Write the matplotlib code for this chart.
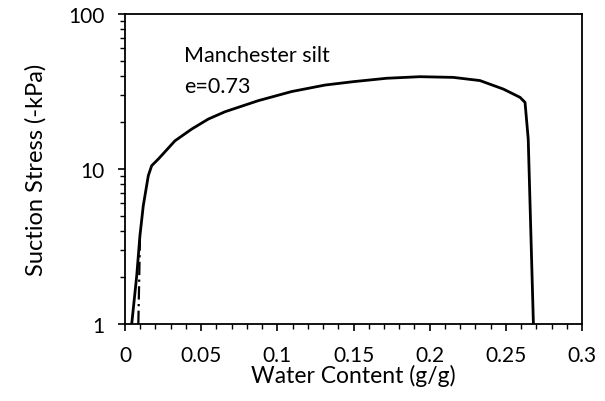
import matplotlib
matplotlib.use("Agg")
import matplotlib.pyplot as plt
from matplotlib.ticker import LogLocator, NullFormatter, MultipleLocator, FuncFormatter

plt.rcParams['font.family'] = ['Lato', 'DejaVu Sans']

# Solid curve: water content (g/g) vs suction stress (-kPa)
w_solid = [0.0044, 0.0077, 0.0098, 0.0120, 0.0153, 0.0175, 0.0219, 0.0328, 0.0438,
           0.0547, 0.0656, 0.0875, 0.1094, 0.1313, 0.1499, 0.1718, 0.1937, 0.2155,
           0.2330, 0.2483, 0.2593, 0.2626, 0.2647, 0.2681]
s_solid = [1.0, 2.05, 3.71, 5.8, 9.06, 10.5, 11.6, 15.2, 18.1,
           21.0, 23.4, 27.6, 31.6, 34.8, 36.6, 38.5, 39.4, 39.0,
           37.2, 32.8, 29.0, 26.9, 15.6, 1.0]
# Dash-dot branch near the dry end
w_dash = [0.00875, 0.0093, 0.0098]
s_dash = [1.0, 1.9, 3.5]

fig = plt.figure(figsize=(6.05, 4.02), dpi=100)
ax = fig.add_axes([125/605, 1-325/402, 457/605, 310/402])

ax.plot(w_dash, s_dash, color='black', lw=1.6, ls=(0, (6, 2, 1, 2)))
ax.plot(w_solid, s_solid, color='black', lw=2.0, solid_joinstyle='round')

ax.set_yscale('log')
ax.set_xlim(0, 0.3)
ax.set_ylim(1, 100)
ax.xaxis.set_major_locator(MultipleLocator(0.05))
ax.xaxis.set_minor_locator(MultipleLocator(0.01))
ax.xaxis.set_major_formatter(FuncFormatter(lambda v, p: ('%g' % round(v, 3))))
ax.yaxis.set_major_locator(LogLocator(base=10, numticks=5))
ax.yaxis.set_minor_locator(LogLocator(base=10, subs=range(2, 10), numticks=10))
ax.yaxis.set_minor_formatter(NullFormatter())
ax.yaxis.set_major_formatter(FuncFormatter(lambda v, p: '%d' % v))

ax.tick_params(which='major', direction='out', length=5, width=1.2, labelsize=15,
               color='black', pad=10)
ax.tick_params(which='minor', direction='out', length=3.5, width=1.0, color='black')
for sp in ax.spines.values():
    sp.set_linewidth(1.3)

ax.set_xlabel('Water Content (g/g)', fontsize=16.5, labelpad=-1)
ax.set_ylabel('Suction Stress (-kPa)', fontsize=17, labelpad=15)

ax.text(0.129, 0.867, 'Manchester silt', transform=ax.transAxes, fontsize=15.5, va='center', ha='left')
ax.text(0.129, 0.768, 'e=0.73', transform=ax.transAxes, fontsize=15.5, va='center', ha='left')

fig.savefig('out.png', dpi=100)
